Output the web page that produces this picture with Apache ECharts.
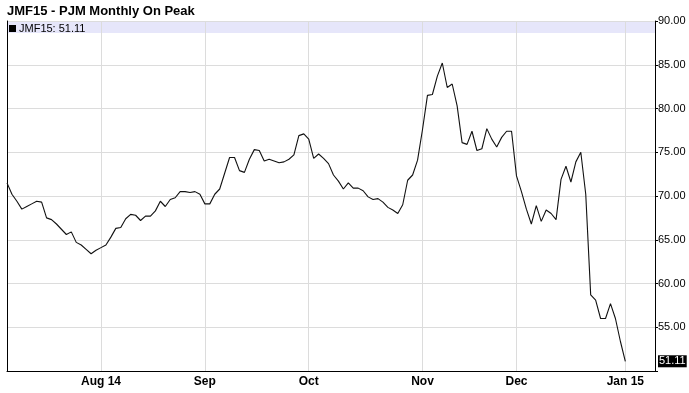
<!DOCTYPE html>
<html>
<head>
<meta charset="utf-8">
<script src="https://cdn.jsdelivr.net/npm/echarts@6/dist/echarts.min.js"></script>
<style>html,body{margin:0;padding:0;background:#fff}#c{width:689px;height:393px}</style>
</head>
<body>
<div id="c"></div>
<script>
// Daily settlement values (trading days from Jul 7 2014 to Jan 2 2015)
var prices = [
71.5,70.2,69.4,68.5,68.8,69.1,69.4,69.3,67.5,67.3,
66.8,66.2,65.6,65.9,64.7,64.4,63.9,63.4,63.8,64.1,
64.4,65.3,66.3,66.4,67.4,67.9,67.8,67.2,67.7,67.7,
68.3,69.4,68.8,69.6,69.8,70.5,70.5,70.4,70.5,70.2,
69.1,69.1,70.2,70.8,72.6,74.4,74.4,72.9,72.7,74.2,
75.3,75.2,74.0,74.2,74.0,73.8,73.9,74.2,74.7,76.9,
77.1,76.5,74.3,74.8,74.3,73.7,72.4,71.7,70.8,71.5,
70.9,70.9,70.6,69.9,69.6,69.7,69.3,68.7,68.4,68.0,
69.0,71.8,72.4,74.1,77.6,81.5,81.6,83.7,85.2,82.4,
82.8,80.3,76.1,75.9,77.4,75.2,75.4,77.7,76.5,75.6,
76.7,77.4,77.4,72.3,70.5,68.5,66.8,68.9,67.1,68.4,
68.0,67.3,71.9,73.4,71.6,73.9,75.0,70.2,58.7,58.1,
56.0,56.0,57.7,56.0,53.4,51.11
];
var monthIndex = [19, 40, 61, 84, 103, 125];
var monthLabels = ['Aug 14', 'Sep', 'Oct', 'Nov', 'Dec', 'Jan 15'];
var yTicks = [50, 90, 5];
var lastValue = 51.11;
var seriesName = 'JMF15';
var titleText = 'JMF15 - PJM Monthly On Peak';

var totalSlots = 132;
var cats = [];
for (var i = 0; i < totalSlots; i++) cats.push(String(i));
function isMonth(idx) { return monthIndex.indexOf(idx) >= 0; }

var chart = echarts.init(document.getElementById('c'));
chart.setOption({
  animation: false,
  backgroundColor: '#fff',
  title: {
    text: titleText, left: 7, top: 5, padding: 0,
    textStyle: { fontFamily: 'Liberation Sans, Arial, sans-serif', fontSize: 13, fontWeight: 'bold', color: '#000' }
  },
  graphic: [{
    type: 'rect', z: -10,
    shape: { x: 7, y: 21, width: 648, height: 12 },
    style: { fill: '#e6e6fa' }
  }],
  legend: {
    left: 9, top: 21, icon: 'rect', itemWidth: 7, itemHeight: 7, itemGap: 4,
    padding: [2, 0, 0, 0],
    formatter: function (n) { return n + ': ' + lastValue.toFixed(2); },
    textStyle: { fontFamily: 'Liberation Sans, Arial, sans-serif', fontSize: 11, color: '#000', padding: [0,0,0,-2] }
  },
  grid: { left: 7, right: 34, top: 21, bottom: 22, containLabel: false },
  xAxis: {
    type: 'category', data: cats, boundaryGap: false,
    axisLine: { show: true, lineStyle: { color: '#000', width: 1 } },
    axisTick: { show: false },
    axisLabel: {
      interval: function (idx) { return isMonth(idx); },
      formatter: function (v, idx) { var k = monthIndex.indexOf(Number(v)); return k >= 0 ? monthLabels[k] : ''; },
      fontFamily: 'Liberation Sans Narrow, Arial Narrow, Liberation Sans, sans-serif',
      fontSize: 12, fontWeight: 'bold', color: '#000', margin: 5
    },
    splitLine: { show: true, interval: function (idx) { return isMonth(idx); }, lineStyle: { color: '#dcdcdc', width: 1 } }
  },
  yAxis: [{
    type: 'value', position: 'right', min: yTicks[0], max: yTicks[1], interval: yTicks[2],
    axisLine: { show: true, lineStyle: { color: '#000', width: 1 } },
    axisTick: { show: true, inside: false, length: 3, lineStyle: { color: '#000' } },
    axisLabel: {
      formatter: function (v) { return v === yTicks[0] ? '' : v.toFixed(2); },
      fontFamily: 'Liberation Sans, Arial, sans-serif', fontSize: 11, color: '#000', margin: 3
    },
    splitLine: { show: true, lineStyle: { color: '#dcdcdc', width: 1 } }
  }, {
    type: 'value', position: 'left', min: yTicks[0], max: yTicks[1], interval: yTicks[2],
    axisLine: { show: true, lineStyle: { color: '#000', width: 1 } },
    axisTick: { show: false }, axisLabel: { show: false }, splitLine: { show: false }
  }],
  series: [{
    name: seriesName, type: 'line', data: prices, yAxisIndex: 0,
    symbol: 'none', itemStyle: { color: '#000' },
    lineStyle: { color: '#111', width: 1.1 },
    markLine: {
      silent: true, symbol: 'none',
      lineStyle: { color: 'transparent', width: 0 },
      data: [{ yAxis: lastValue }],
      label: {
        position: 'end', distance: 3,
        formatter: function () { return lastValue.toFixed(2); },
        backgroundColor: '#000', color: '#fff', padding: [1, 1, 0, 1],
        fontFamily: 'Liberation Sans, Arial, sans-serif', fontSize: 11
      }
    }
  }]
});
</script>
</body>
</html>
